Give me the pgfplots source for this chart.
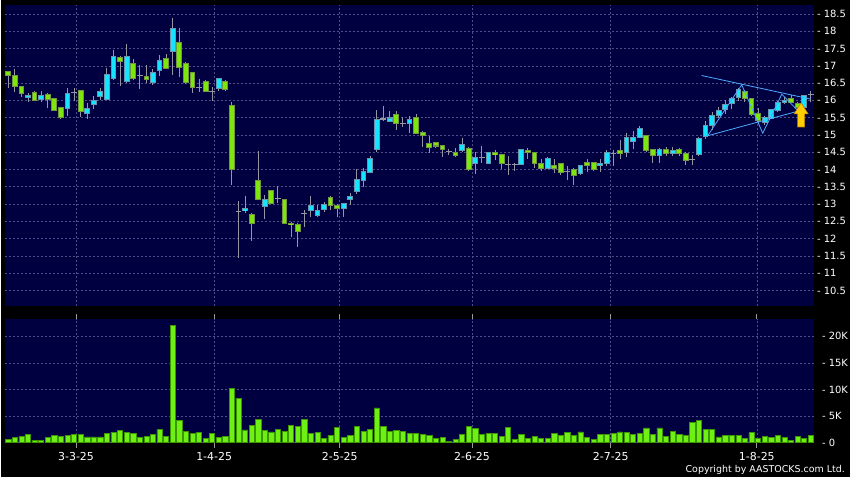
\documentclass[border=0pt]{standalone}
\usepackage{pgfplots}
\pgfplotsset{compat=1.18}
\usepackage{pgfplotstable}
\usepackage{fontspec}
\setmainfont{DejaVu Sans}
\definecolor{navy}{RGB}{0,0,64}
\definecolor{gridc}{RGB}{78,78,135}
\definecolor{upfill}{RGB}{20,228,255}
\definecolor{upline}{RGB}{105,150,175}
\definecolor{dnfill}{RGB}{125,230,10}
\definecolor{dnline}{RGB}{115,150,65}
\definecolor{wick}{RGB}{150,150,162}
\definecolor{volfill}{RGB}{110,240,20}
\definecolor{volline}{RGB}{60,150,0}
\definecolor{trend}{RGB}{80,170,255}
\definecolor{arrowf}{RGB}{255,205,0}
\definecolor{arrowd}{RGB}{190,130,0}
\newcommand\tklab[1]{-\hspace{3bp}#1}

\pgfplotstableread{
i o h l c t v
0 16.84 16.86 16.35 16.73 -1 0.60
1 16.73 16.90 16.23 16.40 -1 1.06
2 16.40 16.42 16.09 16.21 -1 1.20
3 16.09 16.21 15.96 16.15 1 1.56
4 16.24 16.28 15.98 16.01 -1 0.44
5 16.03 16.26 15.96 16.13 1 0.44
6 16.18 16.20 15.79 16.03 -1 1.06
7 16.05 16.07 15.68 15.72 -1 1.44
8 15.79 15.82 15.46 15.51 -1 1.25
9 15.77 16.35 15.55 16.21 1 1.38
10 16.23 16.37 15.98 16.23 0 1.50
11 16.29 16.31 15.53 15.67 -1 1.56
12 15.61 15.92 15.46 15.77 1 1.10
13 15.89 16.13 15.76 16.01 1 1.10
14 16.12 16.37 16.02 16.25 1 1.10
15 16.03 16.93 16.00 16.76 1 1.80
16 16.63 17.46 16.60 17.28 1 2.00
17 17.25 17.28 16.43 17.13 -1 2.25
18 16.55 17.63 16.50 17.28 1 1.94
19 17.08 17.20 16.60 16.63 -1 1.70
20 16.73 17.03 16.32 16.73 0 1.06
21 16.70 17.03 16.50 16.61 -1 1.20
22 16.53 16.90 16.45 16.81 1 1.56
23 16.87 17.32 16.70 17.14 1 2.44
24 17.22 17.34 16.90 16.92 -1 1.20
25 17.42 18.38 16.74 18.09 1 22.10
26 17.68 18.09 16.69 16.96 -1 4.20
27 17.08 17.10 16.48 16.51 -1 2.20
28 16.81 16.83 16.21 16.38 -1 1.75
29 16.38 16.61 16.23 16.38 0 1.90
30 16.55 16.58 16.25 16.25 -1 0.75
31 16.25 16.40 15.97 16.25 0 1.70
32 16.35 16.66 16.28 16.63 1 0.94
33 16.55 16.60 16.28 16.32 -1 1.25
34 15.86 15.96 13.54 14.01 -1 10.25
35 12.78 13.10 11.44 12.78 0 8.40
36 12.80 13.22 12.74 12.86 1 2.40
37 12.71 12.73 11.92 12.45 -1 3.20
38 13.69 14.54 13.12 13.14 -1 4.40
39 12.93 13.27 12.58 13.12 1 2.25
40 13.38 13.40 13.00 13.03 -1 2.06
41 13.15 13.53 13.03 13.15 0 2.50
42 13.12 13.14 12.43 12.45 -1 2.10
43 12.45 12.47 12.06 12.41 -1 3.25
44 12.42 12.44 11.76 12.21 -1 3.06
45 12.73 12.84 12.35 12.73 0 4.40
46 12.81 13.24 12.64 12.95 1 1.70
47 12.67 12.98 12.62 12.81 1 1.94
48 12.83 13.05 12.76 12.98 1 0.88
49 13.20 13.22 12.84 12.96 -1 1.44
50 12.97 12.99 12.64 12.86 -1 2.90
51 12.86 13.03 12.64 13.01 1 1.06
52 13.12 13.32 12.98 13.21 1 1.38
53 13.36 14.01 13.30 13.70 1 3.00
54 13.68 14.03 13.50 13.95 1 2.20
55 13.92 14.38 13.90 14.31 1 2.44
56 14.57 15.73 14.51 15.46 1 6.56
57 15.46 15.84 15.39 15.46 0 3.06
58 15.40 15.70 15.39 15.49 1 2.20
59 15.60 15.70 15.13 15.34 -1 2.25
60 15.34 15.53 15.23 15.34 0 2.10
61 15.34 15.55 15.05 15.46 1 1.80
62 15.51 15.60 15.03 15.05 -1 1.75
63 15.08 15.10 14.66 14.99 -1 1.50
64 14.74 14.97 14.47 14.64 -1 1.35
65 14.77 14.80 14.62 14.68 -1 0.75
66 14.68 14.70 14.36 14.57 -1 0.94
67 14.52 14.58 14.42 14.52 0 0.25
68 14.50 14.61 14.36 14.40 -1 0.60
69 14.55 14.91 14.52 14.71 1 1.50
70 14.62 14.64 13.95 13.99 -1 3.10
71 14.18 14.50 13.88 14.35 1 2.70
72 14.35 14.69 14.18 14.35 0 1.56
73 14.18 14.50 14.16 14.48 1 1.80
74 14.50 14.56 14.28 14.42 -1 1.80
75 14.42 14.44 14.01 14.18 -1 1.20
76 14.14 14.40 13.85 14.14 0 2.94
77 14.14 14.20 13.96 14.14 0 0.56
78 14.14 14.58 14.12 14.58 1 1.50
79 14.56 14.62 14.30 14.49 -1 0.80
80 14.50 14.52 14.04 14.16 -1 1.20
81 14.16 14.30 13.95 14.04 -1 0.88
82 14.04 14.36 14.00 14.33 1 0.88
83 14.12 14.30 13.90 14.04 -1 1.80
84 14.18 14.20 13.85 13.92 -1 1.38
85 13.94 14.09 13.70 13.94 0 1.90
86 14.01 14.03 13.56 13.82 -1 1.38
87 13.88 14.13 13.85 14.11 1 2.06
88 14.21 14.30 13.92 14.13 -1 1.06
89 14.21 14.23 13.95 14.01 -1 0.56
90 14.11 14.30 13.92 14.18 1 1.50
91 14.16 14.55 14.10 14.50 1 1.50
92 14.47 14.57 14.11 14.47 0 1.80
93 14.56 14.86 14.30 14.46 -1 2.06
94 14.49 15.07 14.35 14.94 1 1.90
95 14.81 15.10 14.60 14.94 1 1.50
96 14.94 15.26 14.90 15.20 1 1.75
97 14.98 15.00 14.50 14.55 -1 2.80
98 14.57 14.60 14.20 14.40 -1 1.50
99 14.40 14.62 14.20 14.57 1 2.80
100 14.57 14.65 14.40 14.47 -1 1.20
101 14.47 14.65 14.40 14.56 1 2.10
102 14.57 14.62 14.40 14.46 -1 1.50
103 14.47 14.50 14.14 14.25 -1 1.44
104 14.29 14.43 14.14 14.29 0 3.75
105 14.43 14.95 14.38 14.89 1 4.25
106 14.95 15.40 14.88 15.27 1 2.44
107 15.27 15.65 15.15 15.57 1 2.44
108 15.57 15.80 15.48 15.71 1 1.10
109 15.75 16.00 15.62 15.89 1 1.44
110 15.90 16.10 15.76 16.04 1 1.44
111 16.08 16.37 15.97 16.31 1 1.44
112 16.25 16.30 15.95 16.06 -1 0.80
113 16.06 16.08 15.55 15.60 -1 1.90
114 15.63 15.77 15.34 15.42 -1 0.75
115 15.37 15.55 15.30 15.51 1 1.20
116 15.49 15.75 15.45 15.73 1 0.94
117 15.71 15.98 15.66 15.95 1 1.38
118 15.94 16.10 15.90 16.01 1 1.00
119 16.06 16.15 15.92 15.94 -1 0.50
120 15.92 15.95 15.75 15.80 -1 1.20
121 15.79 16.16 15.72 16.14 1 0.88
122 16.17 16.28 15.95 16.17 0 1.38
}\stock

\pgfplotsset{
  panel/.style={
    scale only axis, width=810bp,
    xmin=-0.5, xmax=122.5,
    axis background/.style={fill=navy},
    axis line style={draw=none},
    xtick={10.3,31.3,50.4,70.5,91.6,113.8},
    grid=major,
    major grid style={draw=gridc, dash pattern=on 2bp off 2bp, line width=0.6bp},
    yticklabel pos=right,
    ytick style={draw=none},
    tick label style={font=\fontsize{10}{12}\selectfont, text=white},
    yticklabel style={anchor=west, inner sep=0pt, xshift=3bp},
    /pgf/number format/assume math mode=true,
  },
  body/.style={draw=none, mark=none,
    error bars/y dir=both, error bars/y explicit, error bars/error mark=none},
}

\begin{document}
\begin{tikzpicture}
\fill[black] (0,0) rectangle (850bp,478bp);

% price panel
\begin{axis}[panel,
  at={(4bp,172bp)}, anchor=south west, height=301bp,
  ymin=10.061, ymax=18.76,
  xticklabels={}, xtick style={draw=none},
  ytick={10.5,11,11.5,12,12.5,13,13.5,14,14.5,15,15.5,16,16.5,17,17.5,18,18.5},
  yticklabel={\tklab{\pgfmathprintnumber{\tick}}},
]
% wicks
\addplot[body, error bars/error bar style={draw=wick, line width=1bp}]
  table[x=i, y expr={(\thisrow{h}+\thisrow{l})/2}, y error expr={(\thisrow{h}-\thisrow{l})/2}] {\stock};
% up bodies
\addplot[body, restrict expr to domain={\thisrow{t}}{0.5:1.5}, error bars/error bar style={draw=upline, line width=5.8bp}]
  table[x=i, y expr={(\thisrow{o}+\thisrow{c})/2}, y error expr={abs(\thisrow{c}-\thisrow{o})/2+0.0145}] {\stock};
\addplot[body, restrict expr to domain={\thisrow{t}}{0.5:1.5}, error bars/error bar style={draw=upfill, line width=3.8bp}]
  table[x=i, y expr={(\thisrow{o}+\thisrow{c})/2}, y error expr={max(abs(\thisrow{c}-\thisrow{o})/2-0.0145,0.002)}] {\stock};
% down bodies
\addplot[body, restrict expr to domain={\thisrow{t}}{-1.5:-0.5}, error bars/error bar style={draw=dnline, line width=5.8bp}]
  table[x=i, y expr={(\thisrow{o}+\thisrow{c})/2}, y error expr={abs(\thisrow{c}-\thisrow{o})/2+0.0145}] {\stock};
\addplot[body, restrict expr to domain={\thisrow{t}}{-1.5:-0.5}, error bars/error bar style={draw=dnfill, line width=3.8bp}]
  table[x=i, y expr={(\thisrow{o}+\thisrow{c})/2}, y error expr={max(abs(\thisrow{c}-\thisrow{o})/2-0.0145,0.002)}] {\stock};
% doji
\addplot[only marks, mark=-, mark size=2.9bp, mark options={draw=wick, line width=1.2bp},
  restrict expr to domain={\thisrow{t}}{-0.5:0.5}] table[x=i, y=c] {\stock};
% pattern lines
\addplot[trend, line width=0.8bp] coordinates {(105.4,16.72) (121.9,16.04)};
\addplot[trend, line width=0.8bp] coordinates {(106.2,14.97) (119.9,15.68)};
\addplot[trend, line width=0.8bp] coordinates {(106.3,14.97) (111.5,16.45) (114.7,15.05) (117.6,16.18) (119.9,15.73)};
% arrow
\addplot[fill=arrowf, draw=arrowd, line width=0.6bp] coordinates {
  (120.53,15.93) (119.47,15.61) (120.0,15.61) (120.0,15.23) (121.06,15.23) (121.06,15.61) (121.59,15.61)} -- cycle;
\end{axis}

% volume panel
\begin{axis}[panel,
  at={(4bp,34.7bp)}, anchor=south west, height=124.3bp,
  ymin=0, ymax=23.3,
  xticklabels={3-3-25,1-4-25,2-5-25,2-6-25,2-7-25,1-8-25},
  xtick style={draw=gray!80, line width=0.8bp},
  tick align=outside, major tick length=5bp,
  xticklabel style={inner sep=0pt, anchor=north, yshift=-4bp, font=\fontsize{11}{13}\selectfont},
  ytick={0,5,10,15,20},
  yticklabels={\tklab{0},\tklab{5K},\tklab{10K},\tklab{15K},\tklab{20K}},
]
\addplot[ybar, bar width=5.2bp, fill=volfill, draw=volline, line width=0.6bp]
  table[x=i, y=v] {\stock};
\end{axis}

\node[anchor=east, text=white, font=\fontsize{9.5}{11}\selectfont, inner sep=0pt] at (845bp,7.5bp) {Copyright by AASTOCKS.com Ltd.};
\end{tikzpicture}
\end{document}
